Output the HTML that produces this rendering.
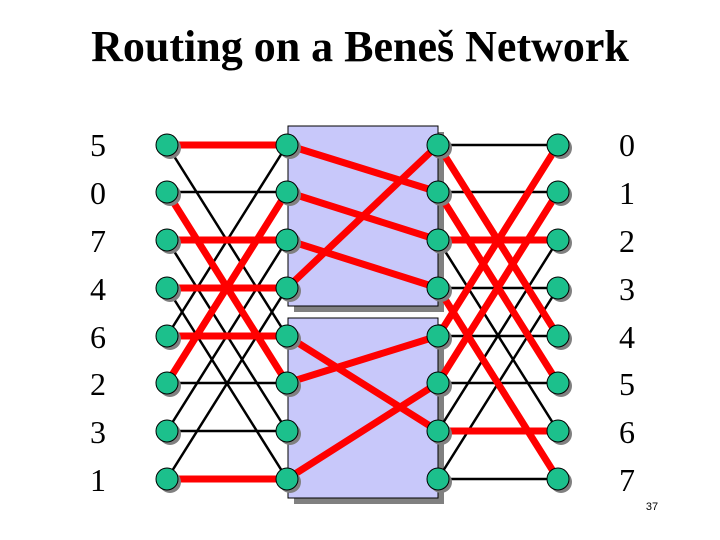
<!DOCTYPE html>
<html><head><style>body{margin:0;background:#fff}svg{display:block}</style></head><body>
<svg width="720" height="540" xmlns="http://www.w3.org/2000/svg">
<text x="360" y="61" text-anchor="middle" font-family="Liberation Serif,serif" font-weight="bold" font-size="44">Routing on a Beneš Network</text>
<rect x="294" y="132" width="150" height="180" fill="#808080"/>
<rect x="288" y="126" width="150" height="180" fill="#c8c8fa" stroke="#000" stroke-width="1"/>
<rect x="294" y="324" width="150" height="180" fill="#808080"/>
<rect x="288" y="318" width="150" height="180" fill="#c8c8fa" stroke="#000" stroke-width="1"/>
<g id="lines" stroke-linecap="round"></g>
<g id="nodes"></g>
<g font-family="Liberation Serif,serif" font-size="32" text-anchor="middle">
<text x="98" y="156">5</text><text x="98" y="204">0</text><text x="98" y="252">7</text><text x="98" y="300">4</text><text x="98" y="348">6</text><text x="98" y="395">2</text><text x="98" y="443">3</text><text x="98" y="491">1</text>
<text x="627" y="156">0</text><text x="627" y="204">1</text><text x="627" y="252">2</text><text x="627" y="300">3</text><text x="627" y="348">4</text><text x="627" y="395">5</text><text x="627" y="443">6</text><text x="627" y="491">7</text>
</g>
<text x="652" y="510" font-family="Liberation Sans,sans-serif" font-size="11" text-anchor="middle">37</text>
<script>
var Y=[145,192,240,288,336,383,431,479],X=[167,287,438,558];
var L=document.getElementById('lines'),N=document.getElementById('nodes'),ns='http://www.w3.org/2000/svg';
function ln(c1,a,c2,b,red){var e=document.createElementNS(ns,'line');e.setAttribute('x1',X[c1]);e.setAttribute('y1',Y[a]);e.setAttribute('x2',X[c2]);e.setAttribute('y2',Y[b]);e.setAttribute('stroke',red?'#f00':'#000');e.setAttribute('stroke-width',red?7:2.5);L.appendChild(e);}
var black=[],red=[];
var lr={0:0,1:5,2:2,3:3,4:4,5:1,7:7};
for(var i=0;i<8;i++){[i,i^4].forEach(function(j){(lr[i]===j?red:black).push([0,i,1,j]);});}
var rr={0:4,1:5,2:2,3:7,4:0,5:1,6:6};
for(var i=0;i<8;i++){[i,i^4].forEach(function(j){(rr[i]===j?red:black).push([2,i,3,j]);});}
[[0,1],[1,2],[2,3],[3,0],[4,6],[5,4],[7,5]].forEach(function(p){red.push([1,p[0],2,p[1]]);});
black.forEach(function(a){ln(a[0],a[1],a[2],a[3],0)});
red.forEach(function(a){ln(a[0],a[1],a[2],a[3],1)});
for(var c=0;c<4;c++)for(var r=0;r<8;r++){
var s=document.createElementNS(ns,'circle');s.setAttribute('cx',X[c]+3);s.setAttribute('cy',Y[r]+3);s.setAttribute('r',11);s.setAttribute('fill','#808080');N.appendChild(s);
var e=document.createElementNS(ns,'circle');e.setAttribute('cx',X[c]);e.setAttribute('cy',Y[r]);e.setAttribute('r',11);e.setAttribute('fill','#1cc08c');e.setAttribute('stroke','#000');e.setAttribute('stroke-width','1');N.appendChild(e);}
</script>
</svg>
</body></html>
